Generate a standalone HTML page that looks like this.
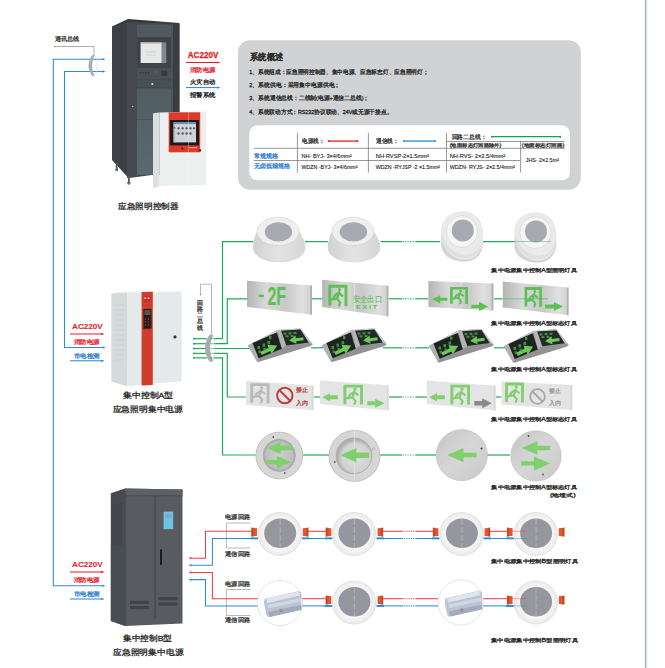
<!DOCTYPE html>
<html><head><meta charset="utf-8">
<style>
html,body{margin:0;padding:0;background:#fff;width:665px;height:668px;overflow:hidden}
svg{display:block}
text{font-family:"Liberation Sans",sans-serif}
</style></head><body>
<svg width="665" height="668" viewBox="0 0 665 668">
<defs>
<linearGradient id="steel" x1="0" y1="0" x2="1" y2="0">
 <stop offset="0" stop-color="#b4b4b4"/><stop offset="0.3" stop-color="#d9d9d9"/><stop offset="0.6" stop-color="#c9c9c9"/><stop offset="0.85" stop-color="#e0e0e0"/><stop offset="1" stop-color="#cfcfcf"/>
</linearGradient>
<linearGradient id="domebody" x1="0" y1="0" x2="1" y2="0">
 <stop offset="0" stop-color="#d2d2d2"/><stop offset="0.5" stop-color="#e3e3e3"/><stop offset="1" stop-color="#d6d6d6"/>
</linearGradient>
<radialGradient id="rface" cx="0.5" cy="0.5" r="0.5">
 <stop offset="0" stop-color="#cdcdcd"/><stop offset="0.8" stop-color="#c0c0c0"/><stop offset="1" stop-color="#a8a8a8"/>
</radialGradient>
<radialGradient id="rface2" cx="0.55" cy="0.55" r="0.5">
 <stop offset="0" stop-color="#dedede"/><stop offset="0.8" stop-color="#d2d2d2"/><stop offset="1" stop-color="#b0b0b0"/>
</radialGradient>
<linearGradient id="rsteel" x1="0" y1="0" x2="1" y2="1">
 <stop offset="0" stop-color="#c6c6c6"/><stop offset="0.5" stop-color="#d6d6d6"/><stop offset="1" stop-color="#c9c9c9"/>
</linearGradient>
<radialGradient id="dlface" cx="0.5" cy="0.5" r="0.5">
 <stop offset="0" stop-color="#8e8e94"/><stop offset="1" stop-color="#7a7a80"/>
</radialGradient>
<marker id="arB" markerWidth="4" markerHeight="4" refX="3" refY="2" orient="auto" markerUnits="userSpaceOnUse"><path d="M0.5 0.9 L3.5 2 L0.5 3.1 Z" fill="#2a8cd6"/></marker>
<marker id="arR" markerWidth="4" markerHeight="4" refX="3" refY="2" orient="auto" markerUnits="userSpaceOnUse"><path d="M0.5 0.9 L3.5 2 L0.5 3.1 Z" fill="#e8202c"/></marker>
<marker id="arG" markerWidth="4" markerHeight="4" refX="3" refY="2" orient="auto" markerUnits="userSpaceOnUse"><path d="M0 0.5 L3.5 2 L0 3.5 Z" fill="#888"/></marker>

<!-- dome ceiling light, origin = center of top ellipse -->
<g id="dome">
 <path d="M-21 0 C-24 6 -26 12 -25 18 C-23 27 -11 31 1 31 C13 31 25 27 27 18 C28 12 25 6 21 0 Z" fill="url(#domebody)"/>
 <ellipse cx="0" cy="0" rx="21" ry="14.2" fill="#efefef" stroke="#cdbfb8" stroke-width="0.4"/>
 <ellipse cx="0.4" cy="0.5" rx="13.7" ry="9.7" fill="#a9a9b1"/>
</g>
<!-- tilt spot light, origin = center of ring -->
<g id="spot">
 <path d="M0 -20.3 C13 -20.3 21 -11 21 2 L21 12 C20 24 12 30 2 30 C-10 30 -21 24 -21 12 L-21 -1 C-21 -12 -12 -20.3 0 -20.3 Z" fill="#eaeaea"/>
 <path d="M-21 4 C-19 20 -8 28 3 28 C13 28 20 20 21 8 L21 12 C20 24 12 30 2 30 C-10 30 -21 24 -21 12 Z" fill="#d4d4d4"/>
 <path d="M-20 2 C-16 18 -4 24 6 23 C14 22 19 16 20.5 6 L20.5 10 C19 20 12 26 3 26.5 C-8 27 -18 20 -20.5 8 Z" fill="#e0e0e0"/>
 <ellipse cx="0" cy="0" rx="15.6" ry="15.9" fill="#f6f6f6" stroke="#d6d6d6" stroke-width="0.7"/>
 <circle cx="0.7" cy="-1.2" r="11" fill="#a9a9b1"/>
</g>
<!-- downlight with clips, origin center -->
<radialGradient id="dlring" cx="0.5" cy="0.5" r="0.5">
 <stop offset="0.7" stop-color="#f6f6f6"/><stop offset="0.93" stop-color="#ededed"/><stop offset="1" stop-color="#dcdcdc"/>
</radialGradient>
<g id="dl">
 <circle cx="0" cy="0" r="22" fill="url(#dlring)"/>
 <ellipse cx="0.3" cy="-0.7" rx="16" ry="14.8" fill="#96969e"/>
 <path d="M0.3 -15 V14" stroke="#c8c8cc" stroke-width="0.5" stroke-dasharray="6 2"/>
</g>
<g id="clipL"><path d="M-2.8 -4.3 L2.7 -3.8 L2.7 4 L-2.8 4.4 Z" fill="#e0562e"/><rect x="-2.8" y="-4.3" width="1.6" height="8.7" fill="#c2431f"/></g>
<g id="clipR"><path d="M-2.7 -3.8 L2.8 -4.3 L2.8 4.4 L-2.7 4 Z" fill="#e0562e"/><rect x="1.2" y="-4.3" width="1.6" height="8.7" fill="#c2431f"/></g>
<!-- tube light in circle -->
<g id="tube">
 <circle cx="0" cy="0" r="22.6" fill="#fff" stroke="#d2d2d2" stroke-width="0.6"/>
 <path d="M-14.5 -4.5 L18.5 -11.8 C20 -12 21 -11 21.2 -9.5 L21.6 6.7 L-10.4 14 C-12 14.3 -13 13.5 -13.5 12 L-15.8 1 C-16.2 -1.5 -15.8 -3.8 -14.5 -4.5 Z" fill="#bcc4d4"/>
 <path d="M-14 -4.3 L18.5 -11.6 L20 -7.5 L-12.5 0 Z" fill="#dfe4ee"/>
 <path d="M-12.5 2 L20.5 -5 L20.8 -1.5 L-11.8 5.5 Z" fill="#cfd6e4"/>
 <path d="M-12 9 L21.3 2 L21.6 6.7 L-10.4 14 Z" fill="#a3abbc"/>
 <rect x="-2" y="6" width="3" height="3" fill="#9a8f88" transform="rotate(-12)"/>
</g>
</defs>

<rect x="644.9" y="0" width="1.5" height="668" fill="#a7afb7"/><rect x="646.4" y="0" width="0.9" height="668" fill="#dde1e5"/>
<g fill="none" stroke="#2a8cd6" stroke-width="1.05">
<path d="M103 59.3 H53.3 V585.7 H103"/>
<path d="M103 71.5 H64.5 V347.5 H103"/>
</g>
<polygon points="102.6,58.025 105.3,59.3 102.6,60.574999999999996" fill="#2a8cd6"/>
<polygon points="102.6,70.225 105.3,71.5 102.6,72.775" fill="#2a8cd6"/>
<polygon points="102.6,346.225 105.3,347.5 102.6,348.775" fill="#2a8cd6"/>
<polygon points="102.6,584.4250000000001 105.3,585.7 102.6,586.975" fill="#2a8cd6"/>
<path d="M55 46.5 H94 V55.5" fill="none" stroke="#9a9a9a" stroke-width="0.8"/>
<circle cx="54.8" cy="46.5" r="0.8" fill="#888"/>
<ellipse cx="93.4" cy="65.5" rx="3.9" ry="10.3" fill="none" stroke="#cfcfcf" stroke-width="0.5"/>
<path d="M92 55.2 Q85 65.5 92 75.8 L94.5 75.8 Q89.5 65.5 94.5 55.2 Z" fill="#a9abae"/>

<text x="55" y="41.3" font-size="5.6" fill="#3a3a3a" font-weight="normal" text-anchor="start" textLength="24.5" lengthAdjust="spacingAndGlyphs" stroke="#3a3a3a" stroke-width="0.28" >通讯总线</text>
<g>
<defs><linearGradient id="glass" x1="0" y1="0" x2="0" y2="1"><stop offset="0" stop-color="#4b5459"/><stop offset="1" stop-color="#596a70"/></linearGradient></defs>
<polygon points="112,26.4 128,19 179.4,23 179.4,26 130,24 112,29" fill="#35383c"/>
<polygon points="112,27 128.5,21.5 128.5,178 112,160" fill="#3d4045"/>
<polygon points="127,22 179.4,24 179.4,175 153.7,174.7 129.4,178 127,178" fill="#46494f"/>
<rect x="137" y="24.7" width="34.5" height="150" fill="url(#glass)"/>
<rect x="137" y="24.7" width="34.5" height="12.6" fill="#505a5c"/>
<rect x="137" y="37.3" width="34.5" height="1.6" fill="#3c4044"/>
<rect x="137" y="39" width="34.5" height="26.5" fill="#3d4246"/>
<rect x="140.6" y="42.4" width="21.1" height="20.6" fill="#e6e9e8"/>
<rect x="140.6" y="42.4" width="21.1" height="1.3" fill="#c9b0ac"/>
<rect x="162" y="42.4" width="4.3" height="20.6" fill="#7f888b"/>
<path d="M146 52 H156 M146 55 H156" stroke="#b8bcbc" stroke-width="0.5"/>
<rect x="137" y="63.5" width="34.5" height="4.8" fill="#3f4448"/><rect x="137" y="68.3" width="34.5" height="11.2" fill="#4a5155"/><rect x="137" y="79.5" width="34.5" height="1" fill="#3a3f43"/>
<g fill="#30353a"><rect x="139.5" y="72" width="1.3" height="1.5"/><rect x="142.3" y="72" width="1.3" height="1.5"/><rect x="145.1" y="72" width="1.3" height="1.5"/><rect x="147.9" y="72" width="1.3" height="1.5"/></g>
<circle cx="156.5" cy="72" r="1.3" fill="none" stroke="#777" stroke-width="0.5"/>
<rect x="161.2" y="70.8" width="6" height="5" fill="#33383c"/>
<rect x="137" y="80.5" width="34.5" height="7" fill="#495054"/>
<circle cx="152.3" cy="84" r="1" fill="#dfe3e3"/>
<rect x="137" y="87.4" width="34.5" height="0.9" fill="#3e4347"/>
<rect x="137" y="119" width="34.5" height="0.8" fill="#4a5256"/>
<rect x="171.5" y="24" width="8" height="151" fill="#3a3d42"/>
<rect x="171.5" y="24" width="1.2" height="151" fill="#55605f"/>
<circle cx="116.7" cy="169.8" r="1.5" fill="#6a6d70"/><circle cx="128.9" cy="183" r="1.7" fill="#6a6d70"/>
<rect x="115.8" y="163" width="1.8" height="6" fill="#55585b"/><rect x="128" y="176" width="1.8" height="6" fill="#55585b"/>
<rect x="132" y="106" width="1.2" height="0.8" fill="#ddd"/>
</g>
<g>
<polygon points="153,113.2 159.6,112.4 159.6,186 153,188.5" fill="#dde2e1"/>
<g stroke="#cfd5d4" stroke-width="0.4"><path d="M154.5 120 V182"/><path d="M156.5 119 V183"/></g>
<polygon points="159.6,112.4 206.2,111.5 206.2,185 159.6,186" fill="#ebf0ef"/>
<rect x="168.7" y="112.3" width="31.5" height="40" fill="#dc3a2a"/>
<rect x="169.9" y="120" width="29.1" height="25.4" fill="#1b1b1d"/>
<rect x="173.6" y="122.2" width="22.4" height="20.2" fill="#cfd2d8"/>
<rect x="173.6" y="122.2" width="22.4" height="1.8" fill="#5f8cc4"/>
<rect x="173.6" y="124" width="1.8" height="18.4" fill="#b9bdc4"/>
<rect x="173.8" y="127.2" width="1.4" height="1.4" fill="#c8302a"/>
<g fill="#4a4d52">
<circle cx="178.5" cy="128.3" r="1.15"/><circle cx="182.6" cy="128.3" r="1.15"/><circle cx="186.6" cy="128.3" r="1.15"/><circle cx="190.5" cy="128.3" r="1.15"/><circle cx="194" cy="128.3" r="1.15"/>
<circle cx="178.5" cy="133.5" r="1.15"/><circle cx="182.6" cy="133.5" r="1.15"/><circle cx="186.6" cy="133.5" r="1.15"/><circle cx="190.5" cy="133.5" r="1.15"/>
</g>
<circle cx="182.5" cy="148.5" r="1.1" fill="#3a2a2a"/>
<rect x="189" y="147.3" width="8" height="0.8" fill="#f0c8c0"/>
<circle cx="199.8" cy="150.3" r="1.4" fill="#3a3a3a"/>
<path d="M188.5 112 V186" stroke="#f4f4f4" stroke-width="0.4" opacity="0.8"/>
</g>
<text x="187.8" y="58" font-size="8.2" fill="#e51f2c" font-weight="bold" text-anchor="start" textLength="30.5" lengthAdjust="spacingAndGlyphs" stroke="#e51f2c" stroke-width="0.28" >AC220V</text>
<path d="M186 62.5 H219.5" stroke="#e8192b" stroke-width="1" marker-end="url(#arR)"/>
<text x="189.9" y="71.6" font-size="6.2" fill="#e8202c" font-weight="normal" text-anchor="start" textLength="25.5" lengthAdjust="spacingAndGlyphs" stroke="#e8202c" stroke-width="0.28" >消防电源</text>
<text x="189.9" y="83.5" font-size="6.2" fill="#222" font-weight="normal" text-anchor="start" textLength="25.5" lengthAdjust="spacingAndGlyphs" stroke="#222" stroke-width="0.28" >火灾自动</text>
<path d="M186 87.6 H219.5" stroke="#1f86d2" stroke-width="1" marker-end="url(#arB)"/>
<text x="189.9" y="96.7" font-size="6.2" fill="#222" font-weight="normal" text-anchor="start" textLength="25.5" lengthAdjust="spacingAndGlyphs" stroke="#222" stroke-width="0.28" >报警系统</text>
<text x="118" y="208.6" font-size="7.8" fill="#222" font-weight="normal" text-anchor="start" textLength="60.7" lengthAdjust="spacingAndGlyphs" stroke="#222" stroke-width="0.28" >应急照明控制器</text>
<rect x="238" y="40.3" width="342.8" height="149.4" rx="12" ry="12" fill="#d1d2d4"/>
<text x="250" y="59.5" font-size="8.6" fill="#2b2b2b" font-weight="bold" text-anchor="start" textLength="33" lengthAdjust="spacingAndGlyphs" stroke="#2b2b2b" stroke-width="0.1" >系统概述</text>
<text x="249.3" y="74" font-size="5.6" fill="#222" font-weight="normal" text-anchor="start" textLength="179" lengthAdjust="spacingAndGlyphs" stroke="#222" stroke-width="0.28" >1、系统组成：应急照明控制器、集中电源、应急标志灯、应急照明灯；</text>
<text x="249.3" y="86.8" font-size="5.6" fill="#222" font-weight="normal" text-anchor="start" textLength="91" lengthAdjust="spacingAndGlyphs" stroke="#222" stroke-width="0.28" >2、系统供电：采用集中电源供电；</text>
<text x="249.3" y="100.4" font-size="5.6" fill="#222" font-weight="normal" text-anchor="start" textLength="120" lengthAdjust="spacingAndGlyphs" stroke="#222" stroke-width="0.28" >3、系统通信总线：二线制(电源+通信二总线)；</text>
<text x="249.3" y="114.2" font-size="5.6" fill="#222" font-weight="normal" text-anchor="start" textLength="143" lengthAdjust="spacingAndGlyphs" stroke="#222" stroke-width="0.28" >4、系统联动方式：RS232协议联动、24V或无源干接点。</text>
<rect x="249.3" y="125.3" width="320.7" height="55" rx="8" ry="8" fill="#ffffff"/>
<g stroke="#7d7d7d" stroke-width="0.8" fill="none">
<path d="M297.4 132.8 V172.6"/>
<path d="M368.4 132.8 V172.6"/>
<path d="M446.5 132.8 V172.6"/>
<path d="M520.6 141.5 V172.6"/>
<path d="M253.8 148.3 H564.6"/>
<path d="M253.8 160.5 H520.6"/>
<path d="M446.5 141.5 H564.6"/>
</g>
<text x="302" y="143.3" font-size="6" fill="#333" font-weight="normal" text-anchor="start" textLength="22" lengthAdjust="spacingAndGlyphs" stroke="#333" stroke-width="0.28" >电源线：</text>
<path d="M329 141.1 H357.4" stroke="#e8202c" stroke-width="1.3"/><circle cx="328.8" cy="141.1" r="1" fill="#e8202c"/><circle cx="357.4" cy="141.1" r="1" fill="#e8202c"/>
<text x="376" y="143.3" font-size="6" fill="#333" font-weight="normal" text-anchor="start" textLength="22.6" lengthAdjust="spacingAndGlyphs" stroke="#333" stroke-width="0.28" >通信线：</text>
<path d="M404 141.1 H435" stroke="#2a8cd6" stroke-width="1.3"/><circle cx="404" cy="141.1" r="1" fill="#2a8cd6"/><circle cx="435" cy="141.1" r="1" fill="#2a8cd6"/>
<text x="451.6" y="139.4" font-size="6.2" fill="#333" font-weight="normal" text-anchor="start" textLength="34.8" lengthAdjust="spacingAndGlyphs" stroke="#333" stroke-width="0.28" >回路二总线：</text>
<path d="M492 136.7 H560.3" stroke="#17a24a" stroke-width="1.3"/><circle cx="492" cy="136.7" r="1" fill="#17a24a"/><circle cx="560.3" cy="136.7" r="1" fill="#17a24a"/>
<text x="449.7" y="146.9" font-size="5" fill="#333" font-weight="normal" text-anchor="start" textLength="51.7" lengthAdjust="spacingAndGlyphs" stroke="#333" stroke-width="0.28" >(地面标志灯回路除外)</text>
<text x="521.7" y="146.9" font-size="5" fill="#333" font-weight="normal" text-anchor="start" textLength="42.7" lengthAdjust="spacingAndGlyphs" stroke="#333" stroke-width="0.28" >(地面标志灯回路)</text>
<text x="253.8" y="157.5" font-size="6.2" fill="#2a7fd0" font-weight="normal" text-anchor="start" textLength="24.5" lengthAdjust="spacingAndGlyphs" stroke="#2a7fd0" stroke-width="0.28" >常规规格</text>
<text x="253.8" y="168.4" font-size="6.2" fill="#2a7fd0" font-weight="normal" text-anchor="start" textLength="36.5" lengthAdjust="spacingAndGlyphs" stroke="#2a7fd0" stroke-width="0.28" >无卤低烟规格</text>
<text x="301.5" y="157.7" font-size="5.8" fill="#222" font-weight="normal" text-anchor="start" textLength="50" lengthAdjust="spacingAndGlyphs" stroke="#222" stroke-width="0.12" >NH- BYJ- 3×4/6mm²</text>
<text x="301.5" y="168.6" font-size="5.8" fill="#222" font-weight="normal" text-anchor="start" textLength="56" lengthAdjust="spacingAndGlyphs" stroke="#222" stroke-width="0.12" >WDZN -BYJ- 3×4/6mm²</text>
<text x="375.8" y="157.6" font-size="5.8" fill="#222" font-weight="normal" text-anchor="start" textLength="53" lengthAdjust="spacingAndGlyphs" stroke="#222" stroke-width="0.12" >NH-RVSP-2×1.5mm²</text>
<text x="375.8" y="168.5" font-size="5.8" fill="#222" font-weight="normal" text-anchor="start" textLength="64" lengthAdjust="spacingAndGlyphs" stroke="#222" stroke-width="0.12" >WDZN -RYJSP -2 ×1.5mm²</text>
<text x="449.7" y="157.8" font-size="5.8" fill="#222" font-weight="normal" text-anchor="start" textLength="55.5" lengthAdjust="spacingAndGlyphs" stroke="#222" stroke-width="0.12" >NH-RVS- 2×2.5/4mm²</text>
<text x="449.7" y="168.5" font-size="5.8" fill="#222" font-weight="normal" text-anchor="start" textLength="65" lengthAdjust="spacingAndGlyphs" stroke="#222" stroke-width="0.12" >WDZN- RYJS- 2×2.5/4mm²</text>
<text x="525.8" y="162.3" font-size="5.8" fill="#222" font-weight="normal" text-anchor="start" textLength="33" lengthAdjust="spacingAndGlyphs" stroke="#222" stroke-width="0.12" >JHS- 2×2.5m²</text>
<g>
<polygon points="111.3,293.2 127,291.8 127,386.3 111.3,381.4" fill="#d5dbdb"/>
<polygon points="127,291.8 181.6,291.6 181.6,381 127,386.3" fill="#e4eaea"/>
<polygon points="111.3,293.2 127,291.8 181.6,291.6 166,292.6" fill="#eef1f0"/>
<polygon points="141.6,292 152.8,291.8 152.8,385 141.6,385.6" fill="#d23a2e"/>
<rect x="143.4" y="308.9" width="8.1" height="19.8" fill="#2a1d1d"/>
<rect x="144.5" y="310" width="6" height="5" fill="#4b5a4a"/>
<g fill="#9a4a44"><circle cx="145.5" cy="319" r="0.7"/><circle cx="148.5" cy="319" r="0.7"/><circle cx="145.5" cy="322" r="0.7"/><circle cx="148.5" cy="322" r="0.7"/><circle cx="145.5" cy="325" r="0.7"/><circle cx="148.5" cy="325" r="0.7"/></g>
<rect x="144" y="296" width="7" height="6" fill="#c9302a"/>
<rect x="144.2" y="297.5" width="2" height="1.2" fill="#f0e0e0"/><rect x="147.5" y="297.5" width="2" height="1.2" fill="#f0e0e0"/>
<circle cx="175" cy="336.9" r="1.6" fill="#2c3a44"/>
<g stroke="#c5cbcb" stroke-width="0.5"><path d="M114 305 H124"/><path d="M114 310 H124"/><path d="M114 315 H124"/><path d="M114 320 H124"/><path d="M114 325 H124"/><path d="M114 330 H124"/><path d="M114 335 H124"/><path d="M114 340 H124"/><path d="M114 345 H124"/><path d="M114 350 H124"/><path d="M114 355 H124"/><path d="M114 360 H124"/></g>
</g>
<text x="123" y="398" font-size="7.8" fill="#222" font-weight="normal" text-anchor="start" textLength="50" lengthAdjust="spacingAndGlyphs" stroke="#222" stroke-width="0.28" >集中控制A型</text>
<text x="112.5" y="411.5" font-size="7.8" fill="#222" font-weight="normal" text-anchor="start" textLength="70.5" lengthAdjust="spacingAndGlyphs" stroke="#222" stroke-width="0.28" >应急照明集中电源</text>
<text x="72.1" y="328.8" font-size="8.1" fill="#e51f2c" font-weight="bold" text-anchor="start" stroke="#e51f2c" stroke-width="0.1" >AC220V</text>
<path d="M70 334 H103.5" stroke="#e8192b" stroke-width="1" marker-end="url(#arR)"/>
<text x="73.7" y="343.5" font-size="5.8" fill="#e8202c" font-weight="normal" text-anchor="start" textLength="26" lengthAdjust="spacingAndGlyphs" stroke="#e8202c" stroke-width="0.28" >消防电源</text>
<text x="73.7" y="357.6" font-size="5.8" fill="#2a7fd0" font-weight="normal" text-anchor="start" textLength="26" lengthAdjust="spacingAndGlyphs" stroke="#2a7fd0" stroke-width="0.28" >市电检测</text>
<path d="M70 360.8 H103.5" stroke="#1f86d2" stroke-width="1" marker-end="url(#arB)"/>
<g>
<polygon points="110.8,493.2 125,488.4 125,626 110.8,621" fill="#474a4f"/>
<polygon points="125,488.4 182.5,489.6 182.5,623.5 125,626" fill="#585c61"/>
<polygon points="125,488.4 182.5,489.6 182.5,495.5 125,495.5" fill="#5d6166"/>
<path d="M125 495.8 H182.5" stroke="#43464b" stroke-width="0.8"/>
<path d="M155 496 V619" stroke="#3f4247" stroke-width="0.9"/>
<path d="M125.6 492 V625" stroke="#3f4247" stroke-width="0.6"/>
<rect x="163.6" y="511.6" width="9.6" height="17.6" fill="#6cc6e2"/>
<rect x="165" y="514" width="6.6" height="4" fill="#7aa6d8"/>
<rect x="160" y="549.4" width="2" height="15.6" fill="#1a1c1e"/>
<g fill="#404348"><rect x="130" y="600.8" width="19" height="3.2"/><rect x="130" y="606" width="19" height="3.2"/><rect x="158.6" y="597" width="19" height="3.2"/><rect x="158.6" y="602.5" width="19" height="3.2"/></g>
<g stroke="#3b3e43" stroke-width="0.6"><path d="M113 505 V545"/><path d="M115 504 V545"/><path d="M117 503.5 V545"/><path d="M119 503 V545"/><path d="M121 502.5 V545"/></g>
<polygon points="110.8,545 125,548 125,626 110.8,621" fill="#4a5055" opacity="0.6"/>
</g>
<text x="123" y="641" font-size="7.8" fill="#222" font-weight="normal" text-anchor="start" textLength="49" lengthAdjust="spacingAndGlyphs" stroke="#222" stroke-width="0.28" >集中控制B型</text>
<text x="113" y="654.8" font-size="7.8" fill="#222" font-weight="normal" text-anchor="start" textLength="70.4" lengthAdjust="spacingAndGlyphs" stroke="#222" stroke-width="0.28" >应急照明集中电源</text>
<text x="72.1" y="567" font-size="8.1" fill="#e51f2c" font-weight="bold" text-anchor="start" stroke="#e51f2c" stroke-width="0.1" >AC220V</text>
<path d="M70 572 H103.5" stroke="#e8192b" stroke-width="1" marker-end="url(#arR)"/>
<text x="73.7" y="581.5" font-size="5.8" fill="#e8202c" font-weight="normal" text-anchor="start" textLength="26" lengthAdjust="spacingAndGlyphs" stroke="#e8202c" stroke-width="0.28" >消防电源</text>
<text x="73.7" y="596.3" font-size="5.8" fill="#2a7fd0" font-weight="normal" text-anchor="start" textLength="26" lengthAdjust="spacingAndGlyphs" stroke="#2a7fd0" stroke-width="0.28" >市电检测</text>
<path d="M70 599 H103.5" stroke="#1f86d2" stroke-width="1" marker-end="url(#arB)"/>
<g fill="none" stroke="#22a85a" stroke-width="1.2">
<path d="M193.5 338.7 H207"/><path d="M193.5 343.7 H207"/><path d="M193.5 348.5 H207"/><path d="M193.5 353.4 H207"/><path d="M193.5 357.9 H207"/>
<path d="M214 338.7 H222.5 V241.6 H253"/>
<path d="M214 343.7 H227.3 V298.8 H247"/>
<path d="M214 348.5 H249"/>
<path d="M214 353.4 H227.3 V397 H246"/>
<path d="M214 357.9 H222.5 V455 H256"/>
</g>
<g fill="#22a85a"><rect x="193" y="337.9" width="1.5" height="1.6"/><rect x="193" y="342.9" width="1.5" height="1.6"/><rect x="193" y="347.7" width="1.5" height="1.6"/><rect x="193" y="352.6" width="1.5" height="1.6"/><rect x="193" y="357.1" width="1.5" height="1.6"/></g>
<ellipse cx="211" cy="348.2" rx="4.6" ry="13.4" fill="none" stroke="#cfcfcf" stroke-width="0.5"/>
<path d="M209.5 334.8 Q200.5 348.2 209.5 361.6 L213.3 361.6 Q206.5 348.2 213.3 334.8 Z" fill="#a9abae"/>
<g stroke="#22a85a" stroke-width="1.2" opacity="0.5"><path d="M210 338.7 H214"/><path d="M210 343.7 H214"/><path d="M210 348.5 H214"/><path d="M210 353.4 H214"/><path d="M210 357.9 H214"/></g>
<path d="M211.5 334.8 V284.2 H200.5 V294" fill="none" stroke="#9a9a9a" stroke-width="0.7"/><circle cx="200.5" cy="294.5" r="0.8" fill="#888"/>
<text x="197.3" y="304.5" font-size="6" fill="#333" font-weight="normal" text-anchor="start" textLength="6" lengthAdjust="spacingAndGlyphs" stroke="#333" stroke-width="0.28" >回</text>
<text x="197.3" y="310.8" font-size="6" fill="#333" font-weight="normal" text-anchor="start" textLength="6" lengthAdjust="spacingAndGlyphs" stroke="#333" stroke-width="0.28" >路</text>
<text x="197.3" y="317.1" font-size="6" fill="#333" font-weight="normal" text-anchor="start" textLength="6" lengthAdjust="spacingAndGlyphs" stroke="#333" stroke-width="0.28" >二</text>
<text x="197.3" y="323.4" font-size="6" fill="#333" font-weight="normal" text-anchor="start" textLength="6" lengthAdjust="spacingAndGlyphs" stroke="#333" stroke-width="0.28" >总</text>
<text x="197.3" y="329.7" font-size="6" fill="#333" font-weight="normal" text-anchor="start" textLength="6" lengthAdjust="spacingAndGlyphs" stroke="#333" stroke-width="0.28" >线</text>
<g fill="none" stroke="#22a85a" stroke-width="1.2">
<path d="M305 241.6 H328"/><path d="M380.6 241.6 H402"/><path d="M415.5 241.6 H440"/><path d="M483 241.6 H515"/>
<path d="M312 298.8 H322.5"/><path d="M388.5 298.8 H402"/><path d="M415.5 298.8 H428"/><path d="M494.3 298.8 H502"/><path d="M500 298.8 H540" stroke-width="0.6" opacity="0.7"/>
<path d="M311 347.8 H323"/><path d="M383 347.8 H402"/><path d="M415.5 347.8 H429"/><path d="M494 347.8 H505"/>
<path d="M313.6 397 H320"/><path d="M389 397 H402"/><path d="M415.5 397 H427"/><path d="M495.7 397 H501.4"/><path d="M501.4 397 H530" stroke-width="0.6" opacity="0.7"/>
<path d="M303 455 H329"/><path d="M380 455 H402"/><path d="M415.5 455 H436"/><path d="M487 455 H510"/>
<path d="M478 241.6 H545" stroke-width="0.6" opacity="0.6"/>
</g>
<path d="M402.5 241.6 H415.5" stroke="#22a85a" stroke-width="1.2" stroke-dasharray="1.1 1.4"/>
<path d="M402.5 298.8 H415.5" stroke="#22a85a" stroke-width="1.2" stroke-dasharray="1.1 1.4"/>
<path d="M402.5 347.8 H415.5" stroke="#22a85a" stroke-width="1.2" stroke-dasharray="1.1 1.4"/>
<path d="M402.5 397 H415.5" stroke="#22a85a" stroke-width="1.2" stroke-dasharray="1.1 1.4"/>
<path d="M402.5 455 H415.5" stroke="#22a85a" stroke-width="1.2" stroke-dasharray="1.1 1.4"/>
<use href="#dome" x="278.1" y="231.4"/>
<use href="#dome" x="353" y="231.4"/>
<use href="#spot" x="462.1" y="231.6"/>
<use href="#spot" x="535.3" y="232.6"/>
<path d="M514 241.6 H551" stroke="#3fb573" stroke-width="0.7" opacity="0.8"/>
<text x="491.4" y="272" font-size="5.4" fill="#222" font-weight="normal" text-anchor="start" textLength="85.6" lengthAdjust="spacingAndGlyphs" stroke="#222" stroke-width="0.28" >集中电源集中控制A型照明灯具</text>
<defs>
<g id="man">
 <path d="M1.6 21 V1.6 H18.4 V21.5" fill="none" stroke="currentColor" stroke-width="3"/>
 <circle cx="11.8" cy="4.9" r="1.6" fill="currentColor"/>
 <path d="M11.3 7.5 L9.2 13.8 M10.8 8.2 L7 10.6 L5.6 13 M11.2 8.4 L14.6 11 M9.2 13.8 L5 14.4 L2 15.2 M9.2 13.8 L12.3 17.6 L11.4 20.8" fill="none" stroke="currentColor" stroke-width="2.3" stroke-linecap="round" stroke-linejoin="round"/>
</g>
<path id="arL" d="M0 5 L6 0 V3 H18 V7 H6 V10 Z"/>
<path id="arR2" d="M18 5 L12 0 V3 H0 V7 H12 V10 Z"/>
<g id="floor">
 <polygon points="-0.6,16.4 28.8,1.1 51.9,-0.5 64.3,15.2 62,16.9 9,33.3" fill="#929292"/>
 <polygon points="-0.6,16.4 28.8,1.1 51.9,-0.5 64.3,15.2 60.3,13.5 51.9,0.6 32.7,1.7 28.2,3.4 4,14.1" fill="#c8c8c8"/>
 <polygon points="28.8,1.1 32.7,1.7 37.8,16.4 33.3,19.7" fill="#b4b4b4"/>
 <polygon points="-0.6,16.4 4,14.1 10.2,29.3 9,33.3" fill="#b0b0b0"/>
 <polygon points="4,14.1 28.2,3.4 33.3,19.7 10.2,29.3" fill="#1c2320"/>
 <polygon points="32.7,1.7 51.9,0.6 60.3,13.5 37.8,16.4" fill="#222a26"/>
 <polygon points="0,-1.8 9.5,-1.8 9.5,-5 18,0 9.5,5 9.5,1.8 0,1.8" fill="#6dc95b" transform="translate(12.5,24.5) rotate(-26)"/>
 <polygon points="0,0 7,-4.2 7,-1.5 14.5,-1.5 14.5,1.5 7,1.5 7,4.2" fill="#6dc95b" transform="translate(40.6,11.5) rotate(-7)"/>
 <g fill="#4f9a48" opacity="0.85"><rect x="9" y="17" width="2.6" height="3.2"/><rect x="14" y="14.5" width="2.6" height="3.2"/><rect x="19" y="12" width="2.6" height="3.2"/><rect x="10" y="21.5" width="2.6" height="2.6"/><rect x="15" y="19" width="2.6" height="2.6"/><rect x="20.5" y="7" width="2.4" height="3.2"/><rect x="35" y="3.5" width="3" height="2.2"/><rect x="40" y="3.2" width="3" height="2.2"/><rect x="45" y="2.9" width="3" height="2.2"/><rect x="37" y="6.3" width="3" height="2"/><rect x="42" y="6" width="3" height="2"/></g>
</g>
<g id="noentry">
 <circle cx="0" cy="0" r="7" fill="none" stroke="currentColor" stroke-width="1.8"/>
 <path d="M-5 -5 L5 5" stroke="currentColor" stroke-width="1.8"/>
</g>
</defs>
<polygon points="247,280.7 312,285.5 312,314.7 247,306.9" fill="url(#steel)"/><polygon points="310.2,285.4 312,285.5 312,314.7 310.2,314.59999999999997" fill="#9c9c9c" opacity="0.6"/>
<rect x="258.7" y="294.5" width="5.2" height="2.4" fill="#5cc152" transform="skewY(4)" transform-origin="258.7 294.5"/>
<text x="267.5" y="305.2" font-size="26" font-weight="bold" fill="#5cc152" textLength="18.5" lengthAdjust="spacingAndGlyphs">2F</text>
<polygon points="322.2,279.8 388.4,285.8 388.4,316.5 322.2,306.9" fill="url(#steel)"/><polygon points="386.59999999999997,285.7 388.4,285.8 388.4,316.5 386.59999999999997,316.4" fill="#9c9c9c" opacity="0.6"/>
<path d="M354.5 282.5 V311.5" stroke="#e8e8e8" stroke-width="0.6"/>
<use href="#man" transform="translate(328.2,284.6) scale(0.965,1.01)" style="color:#5cc152"/>
<text x="352.9" y="301.5" font-size="7.8" fill="#5cc152" font-weight="normal" text-anchor="start" textLength="29" lengthAdjust="spacingAndGlyphs" stroke="#5cc152" stroke-width="0.15" >安全出口</text>
<text x="356" y="308.5" font-size="5.4" fill="#5cc152" font-weight="bold" text-anchor="start" textLength="21" lengthAdjust="spacingAndGlyphs" >E X I T</text>
<polygon points="428.4,281.1 493.4,283.5 493.4,310.5 428.4,306.9" fill="url(#steel)"/><polygon points="491.59999999999997,283.4 493.4,283.5 493.4,310.5 491.59999999999997,310.4" fill="#9c9c9c" opacity="0.6"/>
<path d="M461 282 V309" stroke="#e8e8e8" stroke-width="0.6"/>
<polygon points="432.3,299.3 440.2,295.2 440.2,297.8 447.5,297.8 447.5,300.8 440.2,300.8 440.2,303.40000000000003" fill="#5cc152"/>
<use href="#man" transform="translate(450,286.9) scale(0.9,0.8)" style="color:#5cc152"/>
<polygon points="488.1,306.5 479.1,301.8 479.1,304.8 471.2,304.8 471.2,308.2 479.1,308.2 479.1,311.2" fill="#5cc152"/>
<polygon points="502.8,281.6 568.6,287.6 568.6,315.3 502.8,307.5" fill="url(#steel)"/><polygon points="566.8000000000001,287.5 568.6,287.6 568.6,315.3 566.8000000000001,315.2" fill="#9c9c9c" opacity="0.6"/>
<use href="#man" transform="translate(524.5,287) scale(0.87,0.93)" style="color:#5cc152"/>
<path d="M502.8 298.8 H548" stroke="#3fb573" stroke-width="0.7" opacity="0.8"/>
<polygon points="563,306.5 554,302.0 554,304.5 545,304.5 545,308.5 554,308.5 554,311.0" fill="#5cc152"/>
<text x="491.4" y="324.5" font-size="5.4" fill="#222" font-weight="normal" text-anchor="start" textLength="85.6" lengthAdjust="spacingAndGlyphs" stroke="#222" stroke-width="0.28" >集中电源集中控制A型标志灯具</text>
<use href="#floor" x="248.5" y="329"/>
<use href="#floor" x="322.5" y="329"/>
<use href="#floor" x="429.5" y="329.5"/>
<use href="#floor" x="504.5" y="329.8"/>
<text x="491.4" y="370.8" font-size="5.4" fill="#222" font-weight="normal" text-anchor="start" textLength="85.6" lengthAdjust="spacingAndGlyphs" stroke="#222" stroke-width="0.28" >集中电源集中控制A型标志灯具</text>
<polygon points="246.1,380.9 313.5,385.6 313.5,410.2 246.1,404.9" fill="#e4e4e4"/><polygon points="311.7,385.5 313.5,385.6 313.5,410.2 311.7,410.09999999999997" fill="#d0d0d0" opacity="0.6"/>
<use href="#man" transform="translate(250.2,383.2) scale(0.97,0.93)" style="color:#b9b9b9"/>
<use href="#noentry" transform="translate(284.8,395.5) scale(1.1)" style="color:#b9403c"/>
<text x="295.5" y="392" font-size="5.8" fill="#b9403c" font-weight="normal" text-anchor="start" textLength="12" lengthAdjust="spacingAndGlyphs" stroke="#b9403c" stroke-width="0.28" >禁止</text>
<text x="295.5" y="404.5" font-size="5.8" fill="#b9403c" font-weight="normal" text-anchor="start" textLength="12" lengthAdjust="spacingAndGlyphs" stroke="#b9403c" stroke-width="0.28" >入内</text>
<polygon points="319.8,380.4 388.6,385.2 388.6,410.5 319.8,403.9" fill="#e4e4e4"/><polygon points="386.8,385.09999999999997 388.6,385.2 388.6,410.5 386.8,410.4" fill="#d0d0d0" opacity="0.6"/>
<polygon points="322.2,397.3 330,393.2 330,395.3 337.9,395.3 337.9,399.3 330,399.3 330,401.40000000000003" fill="#80d06e"/>
<use href="#man" transform="translate(343.3,384.6) scale(0.99,0.93)" style="color:#80d06e"/>
<polygon points="384.8,403.3 375.2,398.90000000000003 375.2,401.3 367.3,401.3 367.3,405.3 375.2,405.3 375.2,407.7" fill="#80d06e"/>
<polygon points="426.8,380.4 495.6,385.8 495.6,410.5 426.8,403.9" fill="#e4e4e4"/><polygon points="493.8,385.7 495.6,385.8 495.6,410.5 493.8,410.4" fill="#d0d0d0" opacity="0.6"/>
<polygon points="429.2,397.3 437,393.05 437,395.3 444.9,395.3 444.9,399.3 437,399.3 437,401.55" fill="#80d06e"/>
<use href="#man" transform="translate(450.3,384.6) scale(0.99,0.93)" style="color:#80d06e"/>
<polygon points="491.8,403.3 482.2,398.3 482.2,401.05 474.3,401.05 474.3,405.55 482.2,405.55 482.2,408.3" fill="#8a8a8a"/>
<polygon points="501.4,381.4 572.3,385 572.3,410 501.4,404.5" fill="#e4e4e4"/><polygon points="570.5,384.9 572.3,385 572.3,410 570.5,409.9" fill="#d0d0d0" opacity="0.6"/>
<use href="#man" transform="translate(505,382.5) scale(0.95,0.93)" style="color:#80d06e"/>
<use href="#noentry" transform="translate(537.5,396.5) scale(1.05)" style="color:#a8a8a8"/>
<text x="548.5" y="392.5" font-size="5.8" fill="#9a9a9a" font-weight="normal" text-anchor="start" textLength="12" lengthAdjust="spacingAndGlyphs" stroke="#9a9a9a" stroke-width="0.28" >禁止</text>
<text x="548.5" y="404.5" font-size="5.8" fill="#9a9a9a" font-weight="normal" text-anchor="start" textLength="12" lengthAdjust="spacingAndGlyphs" stroke="#9a9a9a" stroke-width="0.28" >入内</text>
<text x="491.4" y="420.8" font-size="5.4" fill="#222" font-weight="normal" text-anchor="start" textLength="85.6" lengthAdjust="spacingAndGlyphs" stroke="#222" stroke-width="0.28" >集中电源集中控制A型标志灯具</text>
<circle cx="279.3" cy="455.5" r="23.4" fill="#d6d6d6" stroke="#bdbdbd" stroke-width="0.9"/>
<circle cx="279.3" cy="455.4" r="16.1" fill="url(#rface)" stroke="#a0a0a0" stroke-width="0.6"/>
<polygon points="266.9,447.9 280.5,441.79999999999995 280.5,445.59999999999997 292.5,445.59999999999997 292.5,450.2 280.5,450.2 280.5,454.0" fill="#80d16d"/>
<polygon points="291.3,462.2 276.8,455.8 276.8,459.9 266.1,459.9 266.1,464.5 276.8,464.5 276.8,468.59999999999997" fill="#80d16d"/>
<circle cx="273.3" cy="437" r="0.9" fill="#555"/><circle cx="284.8" cy="473" r="0.9" fill="#666"/>
<circle cx="354.5" cy="455.9" r="25.5" fill="#d6d6d6" stroke="#bdbdbd" stroke-width="0.9"/>
<circle cx="354" cy="455.9" r="17.9" fill="url(#rface2)" stroke="#a8a8a8" stroke-width="0.8"/>
<path d="M354.5 430.5 V481" stroke="#ececec" stroke-width="0.5"/>
<polygon points="340.5,455.2 356.3,448.0 356.3,452.5 369,452.5 369,457.9 356.3,457.9 356.3,462.4" fill="#80d16d"/>
<circle cx="334.8" cy="462" r="0.9" fill="#555"/><circle cx="373.5" cy="449" r="1" fill="#ddd" stroke="#777" stroke-width="0.3"/>
<circle cx="461.8" cy="455.1" r="25.6" fill="url(#rsteel)" stroke="#bdbdbd" stroke-width="0.6"/>
<polygon points="447.4,455.1 463.5,447.95000000000005 463.5,452.85 476.6,452.85 476.6,457.35 463.5,457.35 463.5,462.25" fill="#80d16d"/>
<circle cx="442" cy="462.5" r="1" fill="#f2f2f2" stroke="#888" stroke-width="0.3"/><circle cx="481.5" cy="448.5" r="1" fill="#444"/>
<circle cx="536" cy="455.9" r="25.2" fill="url(#rsteel)" stroke="#bdbdbd" stroke-width="0.6"/>
<polygon points="521.7,448 537.5,441.25 537.5,445.7 550.1,445.7 550.1,450.3 537.5,450.3 537.5,454.75" fill="#80d16d"/>
<polygon points="550.1,463.4 533.9,456.15 533.9,461.2 521.2,461.2 521.2,465.59999999999997 533.9,465.59999999999997 533.9,470.65" fill="#80d16d"/>
<circle cx="528.5" cy="436" r="0.9" fill="#444"/><circle cx="543" cy="474.5" r="0.9" fill="#555"/>
<text x="491.4" y="489.3" font-size="5.4" fill="#222" font-weight="normal" text-anchor="start" textLength="85.6" lengthAdjust="spacingAndGlyphs" stroke="#222" stroke-width="0.28" >集中电源集中控制A型标志灯具</text>
<text x="550" y="497" font-size="5.4" fill="#222" font-weight="normal" text-anchor="start" textLength="25.7" lengthAdjust="spacingAndGlyphs" stroke="#222" stroke-width="0.28" >(地埋式)</text>
<g fill="none" stroke-width="1.05">
<path d="M190.5 558.2 H205.5 V531.3 H252" stroke="#ee3c4a"/>
<path d="M190.5 565.3 H212.4 V538.5 H252" stroke="#2a8cd6"/>
<path d="M190.5 572.4 H212.4 V598.7 H258" stroke="#ee3c4a"/>
<path d="M190.5 579.6 H205.5 V605.9 H258" stroke="#2a8cd6"/>
<path d="M305 531.3 H326" stroke="#ee3c4a"/><path d="M305 538.5 H326" stroke="#2a8cd6"/>
<path d="M380 531.3 H402" stroke="#ee3c4a"/><path d="M380 538.5 H402" stroke="#2a8cd6"/>
<path d="M415.5 531.3 H437" stroke="#ee3c4a"/><path d="M415.5 538.5 H437" stroke="#2a8cd6"/>
<path d="M486 531.3 H512" stroke="#ee3c4a"/><path d="M486 538.5 H512" stroke="#2a8cd6"/>
<path d="M302 598.7 H326" stroke="#ee3c4a"/><path d="M302 605.9 H326" stroke="#2a8cd6"/>
<path d="M380 598.7 H402" stroke="#ee3c4a"/><path d="M380 605.9 H402" stroke="#2a8cd6"/>
<path d="M415.5 598.7 H438" stroke="#ee3c4a"/><path d="M415.5 605.9 H438" stroke="#2a8cd6"/>
<path d="M483 598.7 H512" stroke="#ee3c4a"/><path d="M483 605.9 H512" stroke="#2a8cd6"/>
</g>
<path d="M402 531.3 H415.5" stroke="#ee3c4a" stroke-width="1.1" stroke-dasharray="1.2 1"/>
<path d="M402 538.5 H415.5" stroke="#2a8cd6" stroke-width="1.1" stroke-dasharray="1.2 1"/>
<path d="M402 598.7 H415.5" stroke="#ee3c4a" stroke-width="1.1" stroke-dasharray="1.2 1"/>
<path d="M402 605.9 H415.5" stroke="#2a8cd6" stroke-width="1.1" stroke-dasharray="1.2 1"/>
<g><rect x="189.5" y="557.3" width="2" height="1.8" fill="#ee3c4a"/><rect x="189.5" y="564.4" width="2" height="1.8" fill="#2a8cd6"/><rect x="189.5" y="571.5" width="2" height="1.8" fill="#ee3c4a"/><rect x="189.5" y="578.7" width="2" height="1.8" fill="#2a8cd6"/></g>
<g fill="#2a8cd6"><rect x="250.5" y="537.4" width="7.6" height="1.9"/><rect x="301.7" y="537.4" width="7.6" height="1.9"/><rect x="324.8" y="537.4" width="7.6" height="1.9"/><rect x="376.5" y="537.4" width="7.6" height="1.9"/><rect x="431.9" y="537.4" width="7.6" height="1.9"/><rect x="483.5" y="537.4" width="7.6" height="1.9"/><rect x="506.09999999999997" y="537.4" width="7.6" height="1.9"/><rect x="324.8" y="605" width="7.6" height="1.9"/><rect x="376.5" y="605" width="7.6" height="1.9"/><rect x="506.09999999999997" y="605" width="7.6" height="1.9"/></g>
<path d="M250.5 523 H226.4 V548 H250.5" fill="none" stroke="#8a8a8a" stroke-width="0.6"/>
<text x="225.2" y="518.8" font-size="5.6" fill="#333" font-weight="normal" text-anchor="start" textLength="25" lengthAdjust="spacingAndGlyphs" stroke="#333" stroke-width="0.28" >电源回路</text>
<text x="225.2" y="555.5" font-size="5.6" fill="#333" font-weight="normal" text-anchor="start" textLength="25" lengthAdjust="spacingAndGlyphs" stroke="#333" stroke-width="0.28" >通信回路</text>
<path d="M250.5 589.5 H226.4 V615.5 H250.5" fill="none" stroke="#8a8a8a" stroke-width="0.6"/>
<text x="225.2" y="586.2" font-size="5.6" fill="#333" font-weight="normal" text-anchor="start" textLength="25" lengthAdjust="spacingAndGlyphs" stroke="#333" stroke-width="0.28" >电源回路</text>
<text x="225.2" y="622.4" font-size="5.6" fill="#333" font-weight="normal" text-anchor="start" textLength="25" lengthAdjust="spacingAndGlyphs" stroke="#333" stroke-width="0.28" >通信回路</text>
<use href="#dl" x="279.9" y="534"/>
<use href="#dl" x="354.1" y="534"/>
<use href="#dl" x="461.6" y="534"/>
<use href="#dl" x="535.8" y="534"/>
<use href="#dl" x="354.1" y="602.5"/>
<use href="#dl" x="535.8" y="602.5"/>
<use href="#tube" x="280" y="603"/>
<use href="#tube" x="460.7" y="602.5"/>
<use href="#clipL" x="254.3" y="532"/>
<use href="#clipR" x="305.5" y="532"/>
<use href="#clipL" x="328.6" y="532"/>
<use href="#clipR" x="380.3" y="532"/>
<use href="#clipL" x="435.7" y="532"/>
<use href="#clipR" x="487.3" y="532"/>
<use href="#clipL" x="509.9" y="532"/>
<use href="#clipR" x="561.5" y="532"/>
<use href="#clipL" x="328.6" y="600"/>
<use href="#clipR" x="380.3" y="600"/>
<use href="#clipL" x="509.9" y="600"/>
<use href="#clipR" x="561.5" y="600"/>
<path d="M512 531.3 H527" stroke="#ee3c4a" stroke-width="0.8" opacity="0.55"/>
<path d="M512 538.5 H527" stroke="#2a8cd6" stroke-width="0.8" opacity="0.55"/>
<path d="M512 598.7 H527" stroke="#ee3c4a" stroke-width="0.8" opacity="0.55"/>
<path d="M512 605.9 H527" stroke="#2a8cd6" stroke-width="0.8" opacity="0.55"/>
<text x="490.9" y="563" font-size="5.4" fill="#222" font-weight="normal" text-anchor="start" textLength="87" lengthAdjust="spacingAndGlyphs" stroke="#222" stroke-width="0.28" >集中电源集中控制B型照明灯具</text>
<text x="490.9" y="641.5" font-size="5.4" fill="#222" font-weight="normal" text-anchor="start" textLength="87" lengthAdjust="spacingAndGlyphs" stroke="#222" stroke-width="0.28" >集中电源集中控制B型照明灯具</text>
</svg></body></html>
